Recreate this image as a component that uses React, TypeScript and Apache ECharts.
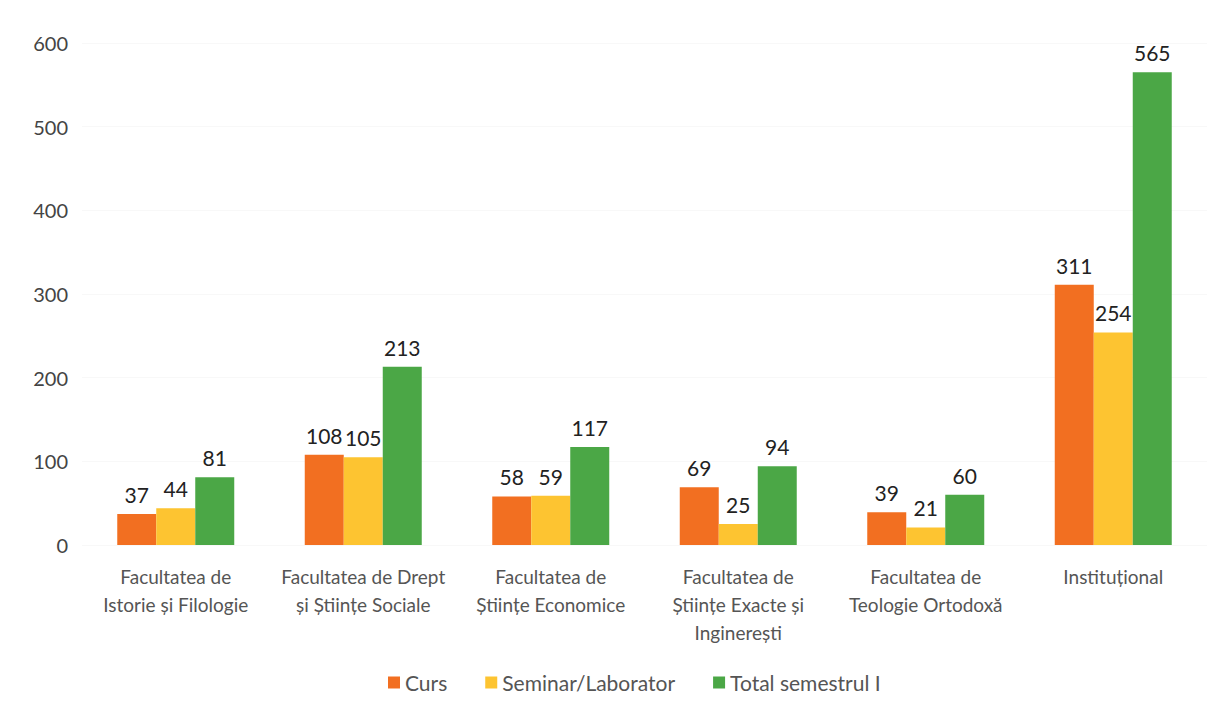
import React, { useEffect, useRef } from "react";
import * as echarts from "echarts";

const categories = [
  "Facultatea de\nIstorie și Filologie",
  "Facultatea de Drept\nși Științe Sociale",
  "Facultatea de\nȘtiințe Economice",
  "Facultatea de\nȘtiințe Exacte și\nInginerești",
  "Facultatea de\nTeologie Ortodoxă",
  "Instituțional",
];
const curs = [37, 108, 58, 69, 39, 311];
const seminar = [44, 105, 59, 25, 21, 254];
const total = [81, 213, 117, 94, 60, 565];
const seriesNames = ["Curs", "Seminar/Laborator", "Total semestrul I"];
const colors = ["#F26F21", "#FDC431", "#4BA746"];

const FONT = "Lato, 'Open Sans', sans-serif";

export default function App() {
  const ref = useRef<HTMLDivElement>(null);
  useEffect(() => {
    if (!ref.current) return;
    const chart = echarts.init(ref.current, undefined, { renderer: "svg" });
    const mk = (name: string, data: number[], color: string) => ({
      name,
      type: "bar",
      data,
      barWidth: 39,
      barGap: "0%",
      itemStyle: { color },
      label: {
        show: true,
        position: "top",
        distance: 9,
        color: "#222",
        fontSize: 21,
        fontFamily: FONT,
      },
    });
    chart.setOption({
      animation: false,
      textStyle: { fontFamily: FONT },
      grid: { left: 74, right: 5, top: 35, bottom: 157 },
      legend: {
        bottom: 4,
        left: 375,
        itemWidth: 12,
        itemHeight: 12,
        itemGap: 38,
        icon: "rect",
        textStyle: { fontSize: 21, color: "#555", fontFamily: FONT },
        data: seriesNames,
      },
      xAxis: {
        type: "category",
        data: categories,
        axisLine: { show: false },
        axisTick: { show: false },
        axisLabel: {
          color: "#555",
          fontSize: 19,
          lineHeight: 28,
          margin: 17,
          interval: 0,
          fontFamily: FONT,
        },
      },
      yAxis: {
        type: "value",
        min: 0,
        max: 600,
        interval: 100,
        axisLine: { show: false },
        axisTick: { show: false },
        splitLine: { lineStyle: { color: "#f8f8f8" } },
        axisLabel: { color: "#444", fontSize: 20, margin: 14, fontFamily: FONT },
      },
      series: [
        mk(seriesNames[0], curs, colors[0]),
        mk(seriesNames[1], seminar, colors[1]),
        mk(seriesNames[2], total, colors[2]),
      ],
    });
    return () => chart.dispose();
  }, []);
  return <div ref={ref} style={{ width: 1204, height: 694 }} />;
}
